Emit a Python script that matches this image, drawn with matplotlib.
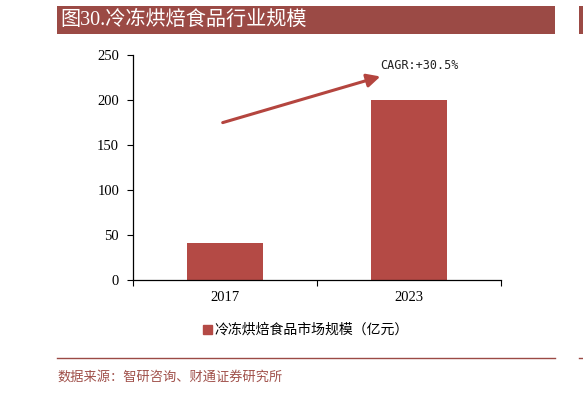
import matplotlib
matplotlib.use("Agg")
import matplotlib.pyplot as plt
from matplotlib.patches import Rectangle, FancyArrowPatch
from matplotlib.lines import Line2D

categories = ["2017", "2023"]
values = [41, 200]
yticks = [0, 50, 100, 150, 200, 250]
title = "图30.冷冻烘焙食品行业规模"
legend_label = "冷冻烘焙食品市场规模（亿元）"
source = "数据来源：智研咨询、财通证券研究所"
cagr = "CAGR:+30.5%"

W, H = 583, 395
fig = plt.figure(figsize=(W / 100, H / 100), dpi=100)
fig.patch.set_facecolor("white")

def fx(px):
    return px / W

def fy(py):
    return 1 - py / H

bar_color = "#B44A45"
head_color = "#9B4A45"
cjk = ["Noto Sans CJK SC", "DejaVu Sans"]
serif_cjk = ["Liberation Serif", "Noto Sans CJK SC"]

# Title bar
fig.patches.append(Rectangle((fx(57), fy(34)), fx(555) - fx(57), fy(6) - fy(34),
                             transform=fig.transFigure, facecolor=head_color,
                             edgecolor="none", zorder=0))
fig.patches.append(Rectangle((fx(579), fy(34)), fx(590) - fx(579), fy(6) - fy(34),
                             transform=fig.transFigure, facecolor=head_color,
                             edgecolor="none", zorder=0))
fig.text(fx(60), fy(20), title, color="white", fontsize=14.5, family=serif_cjk,
         va="center", ha="left")

# Bottom line and source
fig.lines.append(Line2D([fx(57), fx(555)], [fy(358), fy(358)], transform=fig.transFigure,
                        color=head_color, lw=1))
fig.lines.append(Line2D([fx(579), fx(590)], [fy(358), fy(358)], transform=fig.transFigure,
                        color=head_color, lw=1))
fig.text(fx(57), fy(377), source, color="#A0504A", fontsize=9.5, family=cjk,
         va="center", ha="left")

# Axes
ax = fig.add_axes([fx(133), fy(280), fx(501) - fx(133), fy(55) - fy(280)])
x = list(range(len(categories)))
ax.bar(x, values, width=0.415, color=bar_color, zorder=2, label=legend_label)
ax.set_xlim(-0.5, len(categories) - 0.5)
ax.set_ylim(0, 250)
ax.set_yticks(yticks)
ax.set_yticklabels([str(v) for v in yticks], family="Liberation Serif", fontsize=10.5)
ax.set_xticks(x)
ax.set_xticklabels(categories, family="Liberation Serif", fontsize=10.5)
ax.set_xticks([-0.5, 0.5, 1.5], minor=True)
ax.tick_params(axis="x", which="major", length=0, pad=8)
ax.tick_params(axis="x", which="minor", length=4, direction="out", width=0.8)
ax.tick_params(axis="y", length=4, direction="out", width=0.8, pad=6)
for s in ["top", "right"]:
    ax.spines[s].set_visible(False)
ax.spines["left"].set_linewidth(0.9)
ax.spines["bottom"].set_linewidth(0.9)

# Arrow
arr = FancyArrowPatch((-0.027, 174), (0.859, 227), arrowstyle="-|>,head_length=8,head_width=4",
                      color="#B4453F", lw=2.2, mutation_scale=1, zorder=3, clip_on=False)
ax.add_patch(arr)
ax.text(0.842, 238, cagr, family="DejaVu Sans Mono", fontsize=8.5, ha="left", va="center",
        color="#222222")

# Legend
leg = fig.legend(handles=[Rectangle((0, 0), 1, 1, color=bar_color)], labels=[legend_label],
                 loc="center", bbox_to_anchor=(fx(306), fy(330)), frameon=False,
                 prop={"family": cjk, "size": 10}, handlelength=0.6, handleheight=0.6,
                 handletextpad=0.2)

fig.savefig("out.png", dpi=100)
